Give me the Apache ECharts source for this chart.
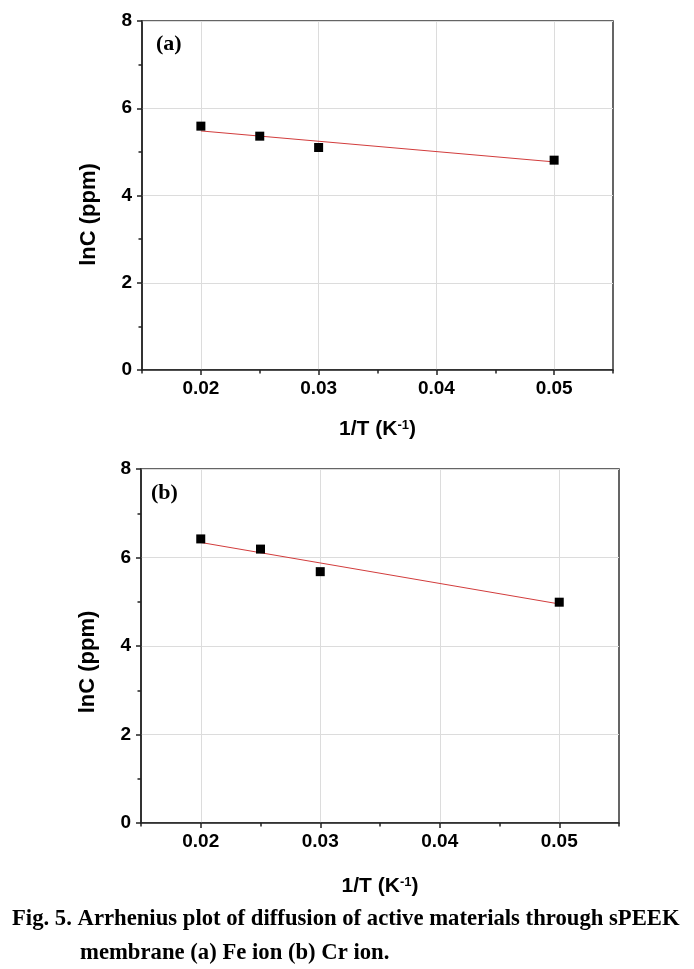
<!DOCTYPE html>
<html>
<head>
<meta charset="utf-8">
<script src="https://cdn.jsdelivr.net/npm/echarts@6/dist/echarts.min.js"></script>
<style>
  html, body { margin: 0; padding: 0; background: #fff; }
  #chart { width: 694px; height: 969px; }
</style>
</head>
<body>
<div id="chart"></div>
<script>
// 1/T values and lnC readings
const invT = [0.02, 0.025, 0.03, 0.05]
const lnFe = [5.59, 5.36, 5.10, 4.81]
const lnCr = [6.42, 6.19, 5.68, 4.99]
// fitted line end points
const fitX = [0.02, 0.05]
const fitFe = [5.48, 4.77]
const fitCr = [6.34, 4.95]
const xLabels = [0.02, 0.03, 0.04, 0.05]

const pairs = (xs, ys) => xs.map((x, i) => [x, ys[i]])

const axisColor = '#222'
const sans = 'Arial, "Liberation Sans", sans-serif'
const serif = '"Liberation Serif", "Times New Roman", serif'
const tickFont = { fontFamily: sans, fontWeight: 'bold', fontSize: 19, color: '#000' }

function makeX(gridIndex, gap) {
  return {
    type: 'value',
    gridIndex: gridIndex,
    min: 0.015,
    max: 0.055,
    name: '1/T (K{sup|-1})',
    nameLocation: 'middle',
    nameGap: gap,
    nameTextStyle: {
      fontFamily: sans, fontWeight: 'bold', fontSize: 21, color: '#000',
      rich: {
        sup: { fontFamily: sans, fontWeight: 'bold', fontSize: 13, color: '#000', verticalAlign: 'top', padding: [0, 0, 8, 0] }
      }
    },
    axisLine: { show: true, onZero: false, lineStyle: { color: axisColor, width: 1.5 } },
    axisTick: { show: true, inside: false, length: 5, customValues: xLabels, lineStyle: { color: axisColor, width: 1.5 } },
    axisLabel: Object.assign({ margin: 9, customValues: xLabels, formatter: v => v.toFixed(2) }, tickFont),
    splitLine: { show: true, lineStyle: { color: '#dcdcdc', width: 1 } }
  }
}

// extra axis only for the short ticks every 0.005
function makeMinorX(gridIndex) {
  return {
    type: 'value',
    gridIndex: gridIndex,
    min: 0.015,
    max: 0.055,
    interval: 0.005,
    position: 'bottom',
    axisLine: { show: false },
    axisTick: { show: true, length: 3.5, lineStyle: { color: axisColor, width: 1.5 } },
    axisLabel: { show: false },
    splitLine: { show: false }
  }
}

function makeY(gridIndex, shift) {
  return {
    type: 'value',
    gridIndex: gridIndex,
    min: 0,
    max: 8,
    interval: 2,
    name: 'lnC (ppm)',
    nameLocation: 'middle',
    nameGap: 42,
    nameTextStyle: {
      fontFamily: sans, fontWeight: 'bold', fontSize: 22, color: '#000',
      padding: [0, shift, 0, 0]
    },
    axisLine: { show: true, onZero: false, lineStyle: { color: axisColor, width: 1.5 } },
    axisTick: { show: true, inside: false, length: 5, lineStyle: { color: axisColor, width: 1.5 } },
    minorTick: { show: true, splitNumber: 2, length: 3.5, lineStyle: { color: axisColor, width: 1.5 } },
    axisLabel: Object.assign({ margin: 10 }, tickFont),
    splitLine: { show: true, lineStyle: { color: '#dcdcdc', width: 1 } }
  }
}

const dom = document.getElementById('chart')
const myChart = echarts.init(dom, null, { renderer: 'canvas' })

const option = {
  animation: false,
  backgroundColor: '#fff',
  title: [
    { text: '(a)', left: 151, top: 28, textStyle: { fontFamily: serif, fontWeight: 'bold', fontSize: 22, color: '#000' } },
    { text: '(b)', left: 146, top: 477, textStyle: { fontFamily: serif, fontWeight: 'bold', fontSize: 22, color: '#000' } }
  ],
  graphic: [
    { type: 'text', left: 12, top: 908, style: { text: 'Fig. 5. Arrhenius plot of diffusion of active materials through sPEEK', font: 'bold 22.7px "Liberation Serif", "Times New Roman", serif', fill: '#000' } },
    { type: 'text', left: 80, top: 942, style: { text: 'membrane (a) Fe ion (b) Cr ion.', font: 'bold 22.7px "Liberation Serif", "Times New Roman", serif', fill: '#000' } }
  ],
  grid: [
    { left: 142, top: 21, width: 471, height: 349, show: true, borderColor: '#333', borderWidth: 1.5, backgroundColor: 'transparent' },
    { left: 141, top: 469, width: 478, height: 354, show: true, borderColor: '#333', borderWidth: 1.5, backgroundColor: 'transparent' }
  ],
  xAxis: [makeX(0, 49), makeX(1, 53), makeMinorX(0), makeMinorX(1)],
  yAxis: [makeY(0, 38), makeY(1, 32)],
  series: [
    { type: 'line', xAxisIndex: 0, yAxisIndex: 0, data: pairs(fitX, fitFe), showSymbol: false, lineStyle: { color: '#d23c3c', width: 1 }, z: 2 },
    { type: 'scatter', xAxisIndex: 0, yAxisIndex: 0, data: pairs(invT, lnFe), symbol: 'rect', symbolSize: 9, itemStyle: { color: '#000', opacity: 1 }, z: 3 },
    { type: 'line', xAxisIndex: 1, yAxisIndex: 1, data: pairs(fitX, fitCr), showSymbol: false, lineStyle: { color: '#d23c3c', width: 1 }, z: 2 },
    { type: 'scatter', xAxisIndex: 1, yAxisIndex: 1, data: pairs(invT, lnCr), symbol: 'rect', symbolSize: 9, itemStyle: { color: '#000', opacity: 1 }, z: 3 }
  ]
}

myChart.setOption(option)
window.addEventListener('resize', myChart.resize)
</script>
</body>
</html>
